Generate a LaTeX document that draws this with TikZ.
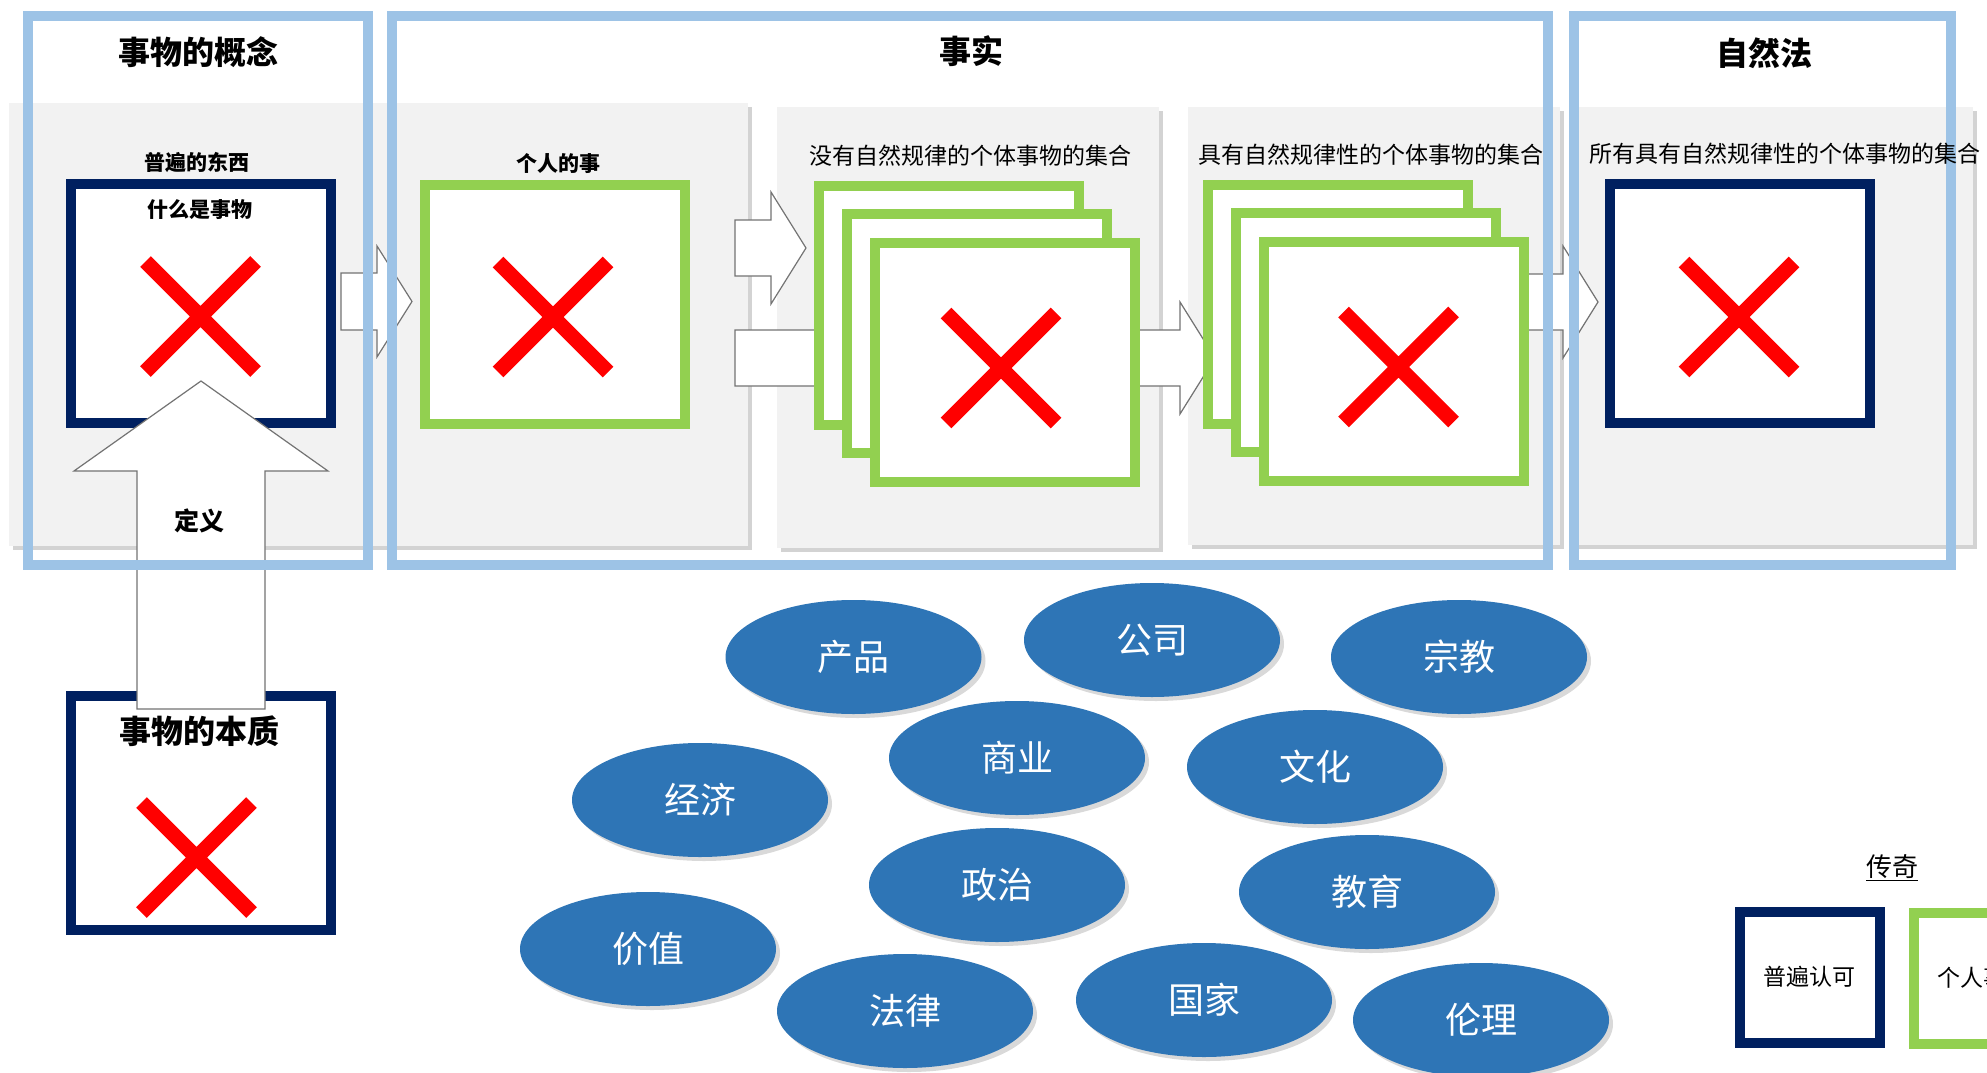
\documentclass[tikz,border=0pt]{standalone}
\usepackage{fontspec}
\newfontfamily\cjk{Noto Sans CJK SC}
\usetikzlibrary{shapes.geometric,shadows}
\definecolor{navy}{RGB}{0,32,96}
\definecolor{leafgreen}{RGB}{146,208,80}
\definecolor{skyblue}{RGB}{157,195,230}
\definecolor{panelgray}{RGB}{242,242,242}
\definecolor{bubbleblue}{RGB}{46,117,182}
\tikzset{
  panel/.style={fill=panelgray, drop shadow={shadow xshift=4pt, shadow yshift=-4pt, opacity=0.35}},
  bigframe/.style={draw=skyblue, line width=10pt},
  navybox/.style={draw=navy, fill=white, line width=10pt, minimum width=260pt, minimum height=239pt, inner sep=0pt},
  greenbox/.style={navybox, draw=leafgreen},
  blockarrow/.style={draw=black!55, fill=white, line width=1.2pt, line join=miter},
  bubble/.style={ellipse, fill=bubbleblue, text=white, minimum width=256pt, minimum height=114pt, inner sep=0pt,
    font=\cjk\fontsize{36}{40}\selectfont, drop shadow={shadow xshift=4pt, shadow yshift=-4pt, opacity=0.3}},
  headline/.style={font=\cjk\bfseries\fontsize{32}{36}\selectfont, inner sep=0pt},
  subhead/.style={font=\cjk\bfseries\fontsize{21}{24}\selectfont, inner sep=0pt},
  setlabel/.style={font=\cjk\fontsize{23}{26}\selectfont, inner sep=0pt},
  redx/.pic={\draw[red, line width=15pt] (-55,-55) -- (55,55) (-55,55) -- (55,-55);}
}

\begin{document}
\begin{tikzpicture}[x=1pt, y=-1pt]
\useasboundingbox (0,0) rectangle (1987,1073);
\clip (0,0) rectangle (1987,1073);

\fill[panel] (9,103) rectangle (748,546);
\fill[panel] (777,107) rectangle (1159,548);
\fill[panel] (1188,107) rectangle (1560,545);
\fill[panel] (1572,107) rectangle (1973,545);

\draw[blockarrow] (341,273) -- (377,273) -- (377,246) -- (412,301.5) -- (377,357) -- (377,330) -- (341,330) -- cycle;
\draw[blockarrow] (735,220) -- (771,220) -- (771,192) -- (806,248) -- (771,304) -- (771,276) -- (735,276) -- cycle;
\draw[blockarrow] (735,330) -- (830,330) -- (830,302) -- (865,358) -- (830,414) -- (830,386) -- (735,386) -- cycle;
\draw[blockarrow] (1100,330) -- (1180,330) -- (1180,302) -- (1215,358) -- (1180,414) -- (1180,386) -- (1100,386) -- cycle;
\draw[blockarrow] (1500,274) -- (1563,274) -- (1563,246) -- (1598,302) -- (1563,358) -- (1563,330) -- (1500,330) -- cycle;

\node[navybox] (universal) at (201,303.75) {};
\pic at (200.5,316.5) {redx};
\node[subhead] (whatis) at (200,210) {什么是事物};
\node[greenbox] (personal) at (554.5,304.5) {};
\pic at (553,317) {redx};
\node[greenbox] (lawlessa) at (948.6,305.5) {};
\node[greenbox] (lawlessb) at (976.9,333.8) {};
\node[greenbox] (lawlessc) at (1005.2,362.1) {};
\pic at (1001,368) {redx};
\node[greenbox] (lawfula) at (1338,304.5) {};
\node[greenbox] (lawfulb) at (1366,332.5) {};
\node[greenbox] (lawfulc) at (1394,361) {};
\pic at (1398.5,367) {redx};
\node[navybox] (natural) at (1739.5,303.5) {};
\pic at (1739,317) {redx};
\node[navybox, minimum height=234pt] (essence) at (201,813) {};
\pic at (196.5,857.5) {redx};
\node[headline] (essencet) at (199,731) {事物的本质};

\draw[blockarrow] (201,381) -- (328,471) -- (265,471) -- (265,709) -- (137,709) -- (137,471) -- (74,471) -- cycle;
\node[subhead, font=\cjk\bfseries\fontsize{25}{28}\selectfont] (define) at (199,521) {定义};

\draw[bigframe] (28,16) rectangle (368,565);
\draw[bigframe] (392,16) rectangle (1548,565);
\draw[bigframe] (1574,16) rectangle (1951,565);

\node[headline] (concept) at (198,52) {事物的概念};
\node[headline] (fact) at (971,51) {事实};
\node[headline] (nature) at (1764,53) {自然法};
\node[subhead] (universalt) at (197,162) {普遍的东西};
\node[subhead] (personalt) at (558,164) {个人的事};
\node[setlabel] (lawlesst) at (970,156) {没有自然规律的个体事物的集合};
\node[setlabel] (lawfult) at (1371,155) {具有自然规律性的个体事物的集合};
\node[setlabel] (allt) at (1785,154) {所有具有自然规律性的个体事物的集合};

\node[bubble] (product) at (853.5,657) {产品};
\node[bubble] (company) at (1152,640) {公司};
\node[bubble] (religion) at (1459,657) {宗教};
\node[bubble] (business) at (1017,758) {商业};
\node[bubble] (culture) at (1315,767) {文化};
\node[bubble] (economy) at (700,800) {经济};
\node[bubble] (politics) at (997,885) {政治};
\node[bubble] (education) at (1367,892) {教育};
\node[bubble] (value) at (648,949) {价值};
\node[bubble] (law) at (905,1011) {法律};
\node[bubble] (nation) at (1204,1000) {国家};
\node[bubble] (ethics) at (1481,1020) {伦理};

\node[setlabel, font=\cjk\fontsize{26}{30}\selectfont] (legend) at (1892,868) {\underline{传奇}};
\node[navybox, minimum width=140pt, minimum height=131pt, setlabel] (legenda) at (1809.5,977) {普遍认可};
\node[greenbox, minimum width=140pt, minimum height=131pt, setlabel] (legendb) at (1983.5,978) {个人事物};
\end{tikzpicture}
\end{document}
